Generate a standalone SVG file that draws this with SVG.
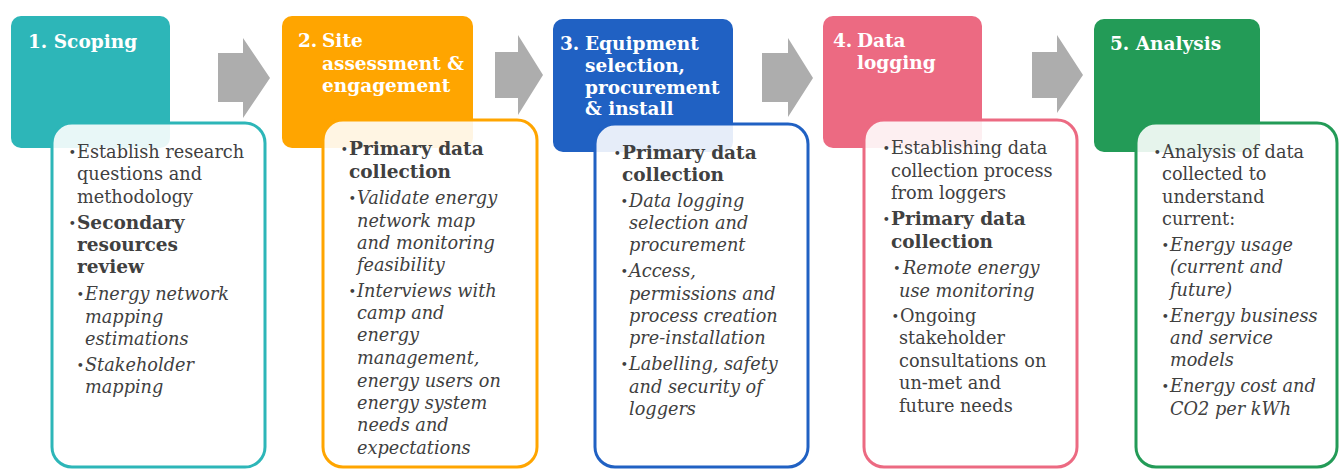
<svg xmlns="http://www.w3.org/2000/svg" width="1339" height="469" viewBox="0 0 1339 469">
<style>
text{font-family:"DejaVu Serif","Liberation Serif",serif;}
.h{fill:#ffffff;font-weight:bold;font-size:18.5px;}
.t{fill:#404040;font-size:17.7px;}
.d{fill:#404040;font-size:13px;}
.b{fill:#404040;font-size:18.5px;font-weight:bold;}
.i{fill:#404040;font-size:17.7px;font-style:italic;}
.card{fill:#ffffff;fill-opacity:0.89;stroke-width:3;}
.arrow{fill:#ADADAD;}
</style>
<rect width="1339" height="469" fill="#ffffff"/>
<g id="connectors">
<polygon class="arrow" points="218,53 243,53 243,38 270,78 243,118 243,102 218,102"/>
<polygon class="arrow" points="495,52 518,52 518,35 543,75 518,115 518,98 495,98"/>
<polygon class="arrow" points="762,53 788,53 788,38 813,78 788,117 788,102 762,102"/>
<polygon class="arrow" points="1032,52 1057,52 1057,35 1083,75 1057,113 1057,98 1032,98"/>
</g>
<g id="step1">
<rect x="11" y="16" width="159" height="132" rx="10" fill="#2DB6B8"/>
<text class="h" x="28" y="48">1. Scoping</text>
<rect class="card" x="52" y="123" width="213" height="344" rx="20" stroke="#2DB6B8"/>
<text class="d" x="68.5" y="157">•</text>
<text class="t" x="77" y="158">Establish research</text>
<text class="t" x="77" y="180">questions and</text>
<text class="t" x="77" y="203">methodology</text>
<text class="d" x="68.5" y="228">•</text>
<text class="b" x="77" y="229">Secondary</text>
<text class="b" x="77" y="251">resources</text>
<text class="b" x="77" y="273">review</text>
<text class="d" x="76.5" y="299">•</text>
<text class="i" x="85" y="300">Energy network</text>
<text class="i" x="85" y="323">mapping</text>
<text class="i" x="85" y="345">estimations</text>
<text class="d" x="76.5" y="370">•</text>
<text class="i" x="85" y="371">Stakeholder</text>
<text class="i" x="85" y="393">mapping</text>
</g>
<g id="step2">
<rect x="282" y="16" width="191" height="132" rx="10" fill="#FFA500"/>
<text class="h" x="298" y="47">2.</text>
<text class="h" x="322" y="47">Site</text>
<text class="h" x="322" y="69.5">assessment &amp;</text>
<text class="h" x="322" y="91.5">engagement</text>
<rect class="card" x="323" y="120" width="214" height="347" rx="20" stroke="#FFA500"/>
<text class="d" x="340.5" y="154">•</text>
<text class="b" x="349" y="155">Primary data</text>
<text class="b" x="349" y="178">collection</text>
<text class="d" x="348.5" y="203">•</text>
<text class="i" x="357" y="204">Validate energy</text>
<text class="i" x="357" y="227">network map</text>
<text class="i" x="357" y="249">and monitoring</text>
<text class="i" x="357" y="271">feasibility</text>
<text class="d" x="348.5" y="296">•</text>
<text class="i" x="357" y="297">Interviews with</text>
<text class="i" x="357" y="319">camp and</text>
<text class="i" x="357" y="341">energy</text>
<text class="i" x="357" y="364">management,</text>
<text class="i" x="357" y="387">energy users on</text>
<text class="i" x="357" y="409">energy system</text>
<text class="i" x="357" y="431">needs and</text>
<text class="i" x="357" y="454">expectations</text>
</g>
<g id="step3">
<rect x="553" y="19" width="180" height="133" rx="10" fill="#2061C3"/>
<text class="h" x="560" y="50">3.</text>
<text class="h" x="585" y="50">Equipment</text>
<text class="h" x="585" y="72">selection,</text>
<text class="h" x="585" y="93.5">procurement</text>
<text class="h" x="585" y="115">&amp; install</text>
<rect class="card" x="595" y="124" width="213" height="343" rx="20" stroke="#2061C3"/>
<text class="d" x="613.5" y="158">•</text>
<text class="b" x="622" y="159">Primary data</text>
<text class="b" x="622" y="181">collection</text>
<text class="d" x="620.5" y="206">•</text>
<text class="i" x="629" y="207">Data logging</text>
<text class="i" x="629" y="229">selection and</text>
<text class="i" x="629" y="251">procurement</text>
<text class="d" x="620.5" y="276">•</text>
<text class="i" x="629" y="277">Access,</text>
<text class="i" x="629" y="300">permissions and</text>
<text class="i" x="629" y="322">process creation</text>
<text class="i" x="629" y="344">pre-installation</text>
<text class="d" x="620.5" y="369">•</text>
<text class="i" x="629" y="370">Labelling, safety</text>
<text class="i" x="629" y="393">and security of</text>
<text class="i" x="629" y="415">loggers</text>
</g>
<g id="step4">
<rect x="823" y="16" width="159" height="132" rx="10" fill="#EC6A82"/>
<text class="h" x="833" y="47">4.</text>
<text class="h" x="857" y="47">Data</text>
<text class="h" x="857" y="69">logging</text>
<rect class="card" x="864" y="120" width="213" height="347" rx="20" stroke="#EC6A82"/>
<text class="d" x="882.5" y="153">•</text>
<text class="t" x="891" y="154">Establishing data</text>
<text class="t" x="891" y="177">collection process</text>
<text class="t" x="891" y="199">from loggers</text>
<text class="d" x="882.5" y="224">•</text>
<text class="b" x="891" y="225">Primary data</text>
<text class="b" x="891" y="248">collection</text>
<text class="d" x="893" y="273">•</text>
<text class="i" x="903" y="274">Remote energy</text>
<text class="i" x="899" y="297">use monitoring</text>
<text class="d" x="891.5" y="321">•</text>
<text class="t" x="900" y="322">Ongoing</text>
<text class="t" x="899" y="344">stakeholder</text>
<text class="t" x="899" y="367">consultations on</text>
<text class="t" x="899" y="389">un-met and</text>
<text class="t" x="899" y="412">future needs</text>
</g>
<g id="step5">
<rect x="1094" y="19" width="166" height="133" rx="10" fill="#239B57"/>
<text class="h" x="1110" y="50">5. Analysis</text>
<rect class="card" x="1136" y="123" width="201" height="344" rx="20" stroke="#239B57"/>
<text class="d" x="1153.5" y="157">•</text>
<text class="t" x="1162" y="158">Analysis of data</text>
<text class="t" x="1162" y="180">collected to</text>
<text class="t" x="1162" y="203">understand</text>
<text class="t" x="1162" y="225">current:</text>
<text class="d" x="1161.5" y="250">•</text>
<text class="i" x="1170" y="251">Energy usage</text>
<text class="i" x="1170" y="273">(current and</text>
<text class="i" x="1170" y="296">future)</text>
<text class="d" x="1161.5" y="321">•</text>
<text class="i" x="1170" y="322">Energy business</text>
<text class="i" x="1170" y="344">and service</text>
<text class="i" x="1170" y="366">models</text>
<text class="d" x="1161.5" y="391">•</text>
<text class="i" x="1170" y="392">Energy cost and</text>
<text class="i" x="1170" y="415">CO2 per kWh</text>
</g>
</svg>
